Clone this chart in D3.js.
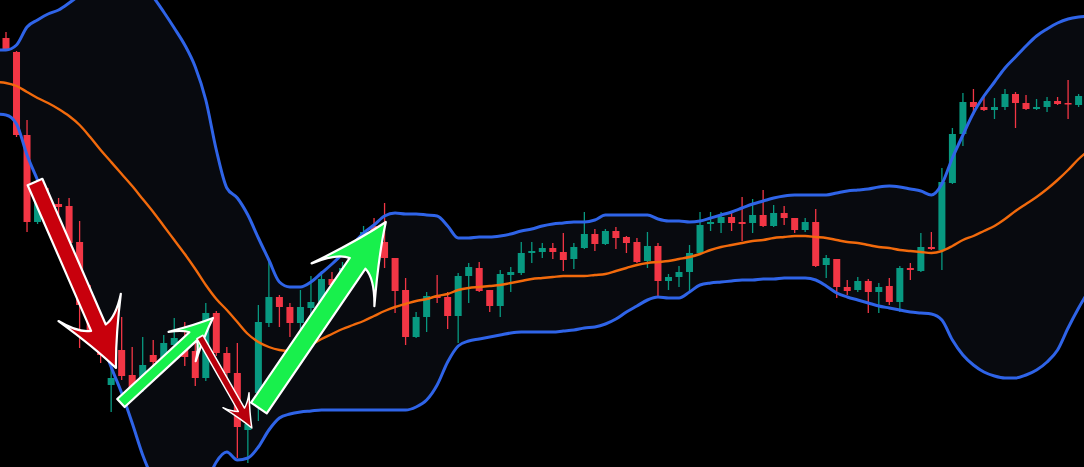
<!DOCTYPE html>
<html><head><meta charset="utf-8">
<script src="https://cdn.jsdelivr.net/npm/d3@7/dist/d3.min.js"></script>
<style>html,body{margin:0;padding:0;background:#000;overflow:hidden}svg{display:block}</style>
</head><body>
<svg id="chart" width="1084" height="467"></svg>
<script>
// ---- Data (price units) ----
const candleIndex = d3.range(103);
const open  = [462,448,365,278,300,296,294,258,200,165,115,150,125,120,145,141,155,153,149,122,187,147,127,70,107,177,203,193,177,192,198,221,210,232,245,274,258,242,210,163,183,204,203,184,224,232,210,194,225,227,247,248,252,248,241,252,266,256,269,263,258,239,254,219,223,228,247,276,277,283,278,277,285,274,287,282,270,278,235,241,213,210,219,208,214,198,232,229,253,250,317,366,398,393,390,393,406,397,391,393,399,397,395];
const high  = [468,449,380,305,312,302,302,279,215,175,135,183,153,163,160,165,182,178,170,197,189,153,157,77,195,240,205,197,210,224,229,228,238,255,274,282,297,242,222,188,208,225,208,227,237,238,210,230,233,258,258,257,257,267,257,288,271,271,273,264,262,268,257,226,234,255,288,288,288,287,303,301,310,295,294,282,282,291,245,241,220,223,221,217,222,234,237,267,268,332,372,407,411,405,402,411,408,405,401,403,403,420,406];
const low   = [450,363,268,276,278,285,252,152,160,137,88,120,102,108,128,130,148,134,114,119,144,122,42,37,79,173,173,163,167,183,190,208,204,225,242,250,232,187,155,162,168,197,171,157,197,208,188,183,208,225,237,242,241,229,231,251,249,255,251,247,237,232,203,210,213,208,246,269,267,269,259,267,273,273,275,267,268,233,222,202,205,208,187,187,195,188,220,228,250,230,316,354,385,389,381,390,372,390,390,388,395,381,393];
const close = [451,365,278,298,288,293,257,195,170,145,122,124,111,135,138,157,162,143,122,187,147,127,73,76,178,203,193,177,193,198,221,215,232,248,268,258,242,209,163,183,204,202,184,224,233,209,194,226,228,247,249,252,248,240,253,266,256,269,262,257,238,254,219,223,228,247,275,278,283,277,276,285,274,287,282,270,278,234,242,213,209,219,208,213,198,232,230,253,251,318,366,398,393,390,393,406,397,391,393,399,396,396,404];

// Bollinger band values read at each bar position (bar -1 .. 103)
const bandIndex = d3.range(-1, 104);
const upperBand = [450,450,455,473,480,486,490,497,505,515,522,526,527,524,515,503,488,472,455,433,400,350,312,302,285,262,240,218,213,213,218,227,236,246,256,267,275,284,287,286,286,285,284,274,262,262,263,263,264,266,269,271,274,276,277,278,278,280,285,285,285,285,285,281,279,279,278,279,282,285,288,292,296,299,302,304,305,305,305,305,307,309,310,311,313,314,313,311,309,305,316,342,365,387,404,418,432,443,454,464,471,477,481,483,484];
const basisBand = [418,417,414,408,402,397,391,384,375,363,350,338,326,314,301,288,274,260,246,231,215,201,190,178,166,158,153,150,149,150,155,161,166,171,175,179,184,189,193,196,199,201,204,206,210,212,213,214,215,217,219,221,222,223,224,224,224,225,226,229,232,235,237,238,239,241,243,246,250,253,255,257,259,260,262,263,264,264,263,262,260,258,257,255,253,252,250,249,248,247,249,254,260,264,269,274,281,289,296,303,311,320,330,341,350];
const lowerBand = [386,385,376,345,320,295,268,245,220,192,162,133,107,77,45,20,0,-12,-15,-8,15,38,48,40,42,53,70,82,86,88,89,90,90,90,90,90,90,90,90,90,93,100,115,138,154,159,161,163,165,167,168,168,168,168,169,170,172,173,176,181,188,194,200,203,202,202,208,215,217,218,219,220,220,221,221,222,222,222,220,214,207,203,200,197,194,192,190,188,187,186,180,160,145,135,128,124,122,122,125,130,138,150,172,192,210];

// Annotation arrows (bar index, price)
const arrowFrom  = [[2.76,318],[10.93,97],[18.44,163],[24.05,92]];
const arrowTo    = [[10.46,132],[19.68,182],[23.38,72],[36.12,278]];
const arrowKind  = ["bigRed","smallGreen","smallRed","bigGreen"];

// ---- Styles ----
const W = 1084, H = 467;
const C = {bg:"#000000", fill:"#080a0f", upper:"#2f64e8", lower:"#2f64e8", basis:"#f26a0c",
           up:"#089981", down:"#f23645"};
const arrowStyle = {
  bigRed:    {fill:"#c8000c", hw:8,   back:66, spread:34, notch:44},
  smallGreen:{fill:"#18f04c", hw:5.5, back:42, spread:20, notch:27},
  smallRed:  {fill:"#b8000c", hw:3.5, back:32, spread:15, notch:21},
  bigGreen:  {fill:"#18f04c", hw:9.5, back:76, spread:38, notch:50}
};

const svg = d3.select("#chart");
svg.append("rect").attr("width",W).attr("height",H).attr("fill",C.bg);

const x = d3.scaleLinear().domain([0,102]).range([6,1078.6]);
const y = d3.scaleLinear().domain([33,500]).range([467,0]);

const bands = bandIndex.map((b,i)=>({b, u:upperBand[i], m:basisBand[i], l:lowerBand[i]}));

svg.append("path").datum(bands)
  .attr("fill",C.fill)
  .attr("d", d3.area().x(d=>x(d.b)).y0(d=>y(d.l)).y1(d=>y(d.u)).curve(d3.curveMonotoneX));

// candles
const candles = candleIndex.map(i=>({i,o:open[i],h:high[i],l:low[i],c:close[i]}));
const bw = 7;
const g = svg.append("g");
g.selectAll("line.w").data(candles).join("line")
  .attr("x1",d=>x(d.i)).attr("x2",d=>x(d.i))
  .attr("y1",d=>y(d.h)).attr("y2",d=>y(d.l))
  .attr("stroke",d=>d.c>=d.o?C.up:C.down).attr("stroke-width",1.3);
g.selectAll("rect.b").data(candles).join("rect")
  .attr("x",d=>x(d.i)-bw/2).attr("width",bw)
  .attr("y",d=>y(Math.max(d.o,d.c)))
  .attr("height",d=>Math.max(1.5, Math.abs(y(d.o)-y(d.c))))
  .attr("fill",d=>d.c>=d.o?C.up:C.down);

// band lines
const line = key => d3.line().x(d=>x(d.b)).y(d=>y(d[key])).curve(d3.curveMonotoneX);
svg.append("path").datum(bands).attr("fill","none").attr("stroke",C.basis).attr("stroke-width",2.4).attr("d",line("m"));
svg.append("path").datum(bands).attr("fill","none").attr("stroke",C.upper).attr("stroke-width",3).attr("d",line("u"));
svg.append("path").datum(bands).attr("fill","none").attr("stroke",C.lower).attr("stroke-width",3).attr("d",line("l"));

// arrows
function arrowPath(L, s){
  const {hw, back, spread, notch} = s;
  return `M0,${-hw} L${L-notch},${-hw} Q${L-notch-3},${-spread*0.6} ${L-back},${-spread}`+
         ` Q${L-back*0.42},${-spread*0.34} ${L},0`+
         ` Q${L-back*0.42},${spread*0.34} ${L-back},${spread}`+
         ` Q${L-notch-3},${spread*0.6} ${L-notch},${hw} L0,${hw} Z`;
}
arrowKind.forEach((k,i)=>{
  const x0=x(arrowFrom[i][0]), y0=y(arrowFrom[i][1]);
  const x1=x(arrowTo[i][0]), y1=y(arrowTo[i][1]);
  const L=Math.hypot(x1-x0,y1-y0), ang=Math.atan2(y1-y0,x1-x0)*180/Math.PI;
  const s=arrowStyle[k];
  svg.append("path")
    .attr("transform",`translate(${x0},${y0}) rotate(${ang})`)
    .attr("d",arrowPath(L,s))
    .attr("fill",s.fill).attr("stroke","#ffffff").attr("stroke-width",k==="smallRed"?1.5:2.2)
    .attr("stroke-linejoin","round");
});
</script>
</body></html>
